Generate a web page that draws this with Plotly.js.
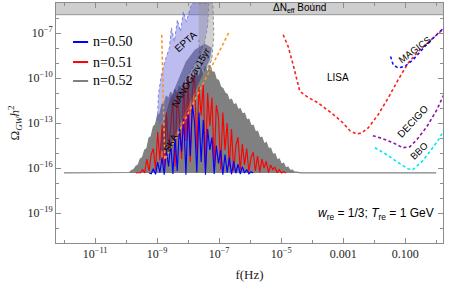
<!DOCTYPE html>
<html>
<head>
<meta charset="utf-8">
<script src="https://cdn.plot.ly/plotly-3.0.1.min.js"></script>
<style>html,body{margin:0;padding:0;background:#fff;}#chart{width:449px;height:282px;}</style>
</head>
<body>
<div id="chart"></div>
<script>
// ---- spectrum data: log10 f (Hz) grid and log10 Omega_GW h^2 for each n ----
const log10Freq = [-12,
 -10.10,-10.03,-9.96,-9.89,-9.82,-9.75,-9.68,-9.61,-9.54,-9.47,
 -9.40,-9.33,-9.26,-9.19,-9.12,-9.05,-8.98,-8.91,-8.84,-8.77,
 -8.70,-8.63,-8.56,-8.49,-8.42,-8.35,-8.28,-8.21,-8.14,-8.07,
 -8.00,-7.93,-7.86,-7.79,-7.72,-7.65,-7.58,-7.51,-7.44,-7.37,
 -7.30,-7.23,-7.16,-7.09,-7.02,-6.95,-6.88,-6.81,-6.74,-6.67,
 -6.60,-6.53,-6.46,-6.39,-6.32,-6.25,-6.18,-6.11,-6.04,-5.97,
 -5.90,-5.83,-5.76,-5.69,-5.62,-5.55,-5.48,-5.41,-5.34,-5.27,
 -5.20,-5.13,-5.06,-4.99,-4.92,-4.85,-4.78,-4.71,-4.64,-4.57,
 -4.50,-4.43,-4.36,-4.29,-4.22,
 0];

const log10OmegaN052 = [-16.33,
 -16.33,-16.33,-16.31,-16.30,-16.16,-16.10,-15.88,-15.80,-15.40,-15.30,
 -14.80,-14.70,-14.00,-13.90,-13.25,-13.10,-12.45,-12.40,-11.75,-11.70,
 -11.20,-11.40,-10.95,-11.30,-10.75,-11.10,-10.55,-10.90,-10.30,-10.70,
 -10.05,-10.40,-9.80,-10.20,-9.60,-10.00,-9.40,-9.90,-9.20,-9.70,
 -9.15,-9.60,-9.60,-10.10,-10.15,-10.60,-10.70,-11.00,-11.10,-11.50,
 -11.42,-11.80,-11.72,-12.10,-12.05,-12.40,-12.35,-12.80,-12.75,-13.20,
 -13.15,-13.60,-13.55,-14.00,-13.95,-14.40,-14.30,-14.70,-14.68,-15.10,
 -15.05,-15.45,-15.40,-15.75,-15.68,-16.00,-15.94,-16.15,-16.14,-16.28,
 -16.28,-16.33,-16.33,-16.33,-16.33,
 -16.33];

// null = curve lies on the common flat floor (drawn by the n=0.52 curve)
const log10OmegaN051 = [null,
 null,null,null,null,null,null,-16.33,-16.30,-16.33,-16.10,
 -16.33,-15.40,-16.20,-15.10,-14.70,-16.10,-13.60,-15.50,-13.10,-16.00,
 -12.30,-14.80,-13.20,-11.30,-15.90,-11.00,-12.80,-15.40,-10.30,-14.20,
 -9.90,-15.60,-10.80,-9.75,-15.00,-10.60,-12.50,-10.40,-16.00,-11.00,
 -13.20,-11.30,-15.80,-11.80,-12.60,-16.10,-12.30,-14.80,-13.00,-15.90,
 -13.40,-16.20,-14.50,-13.95,-16.15,-14.40,-15.80,-14.70,-16.25,-15.30,
 -14.95,-16.20,-15.20,-16.28,-15.40,-16.00,-15.55,-16.30,-15.80,-16.10,
 -15.95,-16.32,-16.10,-16.33,-16.25,-16.33,null,null,null,null,
 null,null,null,null,null,
 null];

const log10OmegaN050 = [null,
 null,null,null,null,null,null,null,null,null,null,
 null,null,-16.33,-16.38,-16.05,-16.42,-15.60,-16.30,-15.30,-16.45,
 -14.80,-15.90,-14.40,-16.40,-13.90,-16.20,-13.30,-14.90,-12.70,-16.45,
 -12.20,-15.20,-11.80,-13.00,-16.30,-12.30,-15.60,-12.80,-16.45,-13.40,
 -14.80,-13.95,-16.40,-14.50,-15.70,-14.80,-16.45,-15.10,-16.30,-15.30,
 -16.42,-15.55,-16.35,-15.75,-16.40,-15.92,-16.33,-16.10,-16.38,-16.25,
 -16.33,null,null,null,null,null,null,null,null,null,
 null,null,null,null,null,null,null,null,null,null,
 null,null,null,null,null,
 null];

const seriesNames = ['n=0.50', 'n=0.51', 'n=0.52'];

// ---- detector sensitivity curves (log10 f, log10 Omega h^2) ----
const lisaLogF = [-4.935,-4.774,-4.613,-4.503,-4.397,-4.181,-3.806,-3.374,-3.0,-2.784,-2.568,-2.406,-2.194,-1.871,-1.548,-1.226,-0.903,-0.526,-0.097,0.25];
const lisaLogO = [-7.113,-7.893,-9.113,-10.113,-10.893,-11.227,-11.667,-12.333,-13.0,-13.513,-13.733,-13.667,-13.333,-12.447,-11.333,-10.113,-9.0,-8.113,-7.333,-6.70];
const magicsLogF = [-1.471,-1.387,-1.226,-1.01,-0.742,-0.365,0.013,0.25];
const magicsLogO = [-8.56,-9.113,-9.333,-9.227,-8.78,-7.893,-7.113,-6.65];
const decigoLogF = [-2.042,-1.719,-1.397,-1.074,-0.848,-0.623,-0.3,0.023,0.25];
const decigoLogO = [-13.847,-14.047,-14.313,-14.647,-14.58,-14.113,-13.247,-12.113,-11.10];
const bboLogF = [-1.977,-1.59,-1.268,-0.913,-0.752,-0.461,-0.203,0.119,0.25];
const bboLogO = [-14.647,-15.113,-15.58,-16.047,-16.113,-15.58,-14.913,-13.98,-13.45];
const skaLogF = [-8.85,-8.80,-8.75,-6.69];
const skaLogO = [-7.11,-11.45,-15.45,-6.98];

// ---- PTA regions ----
const eptaLogF = [-8.990,-8.958,-8.861,-8.732,-8.603,-8.539,-8.442,-8.345,-8.248,-8.152,-8.055,-7.926,-7.848,-7.332,-7.365,-7.461,-7.655,-7.913,-8.235,-8.494,-8.719,-8.913];
const eptaLogO = [-12.78,-11.113,-9.78,-8.78,-7.98,-6.647,-7.58,-6.113,-6.913,-5.58,-6.247,-5.313,-5.0,-5.0,-6.447,-7.58,-8.647,-9.58,-10.647,-11.447,-12.247,-13.047];
const nanogravLogF = [-8.906,-8.81,-8.59,-8.332,-8.074,-7.784,-7.461,-7.235,-7.3,-7.526,-7.784,-8.042,-8.268,-8.494,-8.655];
const nanogravLogO = [-14.78,-13.113,-11.447,-10.113,-8.913,-8.113,-7.713,-7.98,-8.78,-9.78,-10.913,-12.113,-13.113,-14.113,-15.113];
const grayBandLogF = [-7.655,-7.203,-7.171,-7.235,-7.397,-7.590,-7.655];
const grayBandLogO = [-5.0,-5.0,-7.113,-8.78,-9.447,-9.447,-7.447];

// Delta N_eff bound
const dNeffLogOmega = -5.78;

// ---- ticks ----
const xTickLogVals = [-11,-9,-7,-5,-3,-1];
const xTickText = ['10<sup>\u221211</sup>','10<sup>\u22129</sup>','10<sup>\u22127</sup>','10<sup>\u22125</sup>','0.001','0.100'];
const xMinorLogVals = [-12,-10,-8,-6,-4,-2,0];
const yTickLogVals = [-19,-16,-13,-10,-7];
const yTickText = ['10<sup>\u221219</sup>','10<sup>\u221216</sup>','10<sup>\u221213</sup>','10<sup>\u221210</sup>','10<sup>\u22127</sup>'];
const yMinorLogVals = [-21,-20,-18,-17,-15,-14,-12,-11,-9,-8,-6,-5];

const p10 = a => a.map(v => (v === null ? null : Math.pow(10, v)));

const SERIF = 'Liberation Serif, Times New Roman, serif';
const SANS = 'Liberation Sans, Arial, sans-serif';
const dashS = '3px,2.5px';

const traces = [
  {x: p10([-13, 1, 1, -13]), y: p10([dNeffLogOmega, dNeffLogOmega, -4, -4]), fill: 'toself', fillcolor: 'rgb(206,206,206)',
   mode: 'lines', line: {color: 'rgb(150,150,150)', width: 1}, hoverinfo: 'skip', showlegend: false},
  {x: p10(log10Freq), y: p10(log10OmegaN052), mode: 'lines', name: seriesNames[2], fill: 'toself', fillcolor: 'rgb(128,128,128)',
   line: {color: 'rgb(128,128,128)', width: 1.2}, showlegend: false},
  {x: p10(log10Freq), y: p10(log10OmegaN051), mode: 'lines', name: seriesNames[1], connectgaps: false,
   line: {color: 'rgb(255,0,0)', width: 1.15}, showlegend: false},
  {x: p10(log10Freq), y: p10(log10OmegaN050), mode: 'lines', name: seriesNames[0], connectgaps: false,
   line: {color: 'rgb(0,0,255)', width: 1.15}, showlegend: false},
  {x: p10(eptaLogF), y: p10(eptaLogO), fill: 'toself', fillcolor: 'rgba(95,95,215,0.42)', mode: 'lines',
   line: {color: 'rgba(90,90,230,0.7)', width: 1, dash: dashS}, showlegend: false, hoverinfo: 'skip'},
  {x: p10(grayBandLogF), y: p10(grayBandLogO), fill: 'toself', fillcolor: 'rgba(150,150,150,0.45)', mode: 'lines',
   line: {color: 'rgba(120,120,120,0.8)', width: 1, dash: dashS}, showlegend: false, hoverinfo: 'skip'},
  {x: p10(nanogravLogF), y: p10(nanogravLogO), fill: 'toself', fillcolor: 'rgba(45,45,110,0.5)', mode: 'lines',
   line: {color: 'rgba(45,45,110,0)', width: 0}, showlegend: false, hoverinfo: 'skip'},
  {x: p10(skaLogF), y: p10(skaLogO), mode: 'lines', line: {color: 'rgb(245,150,40)', width: 1.6, dash: dashS}, showlegend: false},
  {x: p10(lisaLogF), y: p10(lisaLogO), mode: 'lines', line: {color: 'rgb(255,30,30)', width: 1.6, dash: dashS}, showlegend: false},
  {x: p10(magicsLogF), y: p10(magicsLogO), mode: 'lines', line: {color: 'rgb(20,20,255)', width: 1.6, dash: dashS}, showlegend: false},
  {x: p10(decigoLogF), y: p10(decigoLogO), mode: 'lines', line: {color: 'rgb(140,20,160)', width: 1.6, dash: dashS}, showlegend: false},
  {x: p10(bboLogF), y: p10(bboLogO), mode: 'lines', line: {color: 'rgb(0,235,240)', width: 1.6, dash: dashS}, showlegend: false}
];

const legendColors = ['rgb(0,0,255)', 'rgb(255,0,0)', 'rgb(128,128,128)'];
const legendY = [0.8375, 0.754, 0.675];
const shapes = legendY.map((yy, i) => ({type: 'line', xref: 'paper', yref: 'paper', x0: 0.044, x1: 0.083, y0: yy, y1: yy,
  line: {color: legendColors[i], width: 2}}));

const ann = (txt, x, y, ang, size) => ({text: txt, x: x, y: y, xref: 'x', yref: 'y', showarrow: false,
  textangle: ang, font: {family: SANS, size: size, color: '#000'}});

const annotations = [
  ...seriesNames.map((s, i) => ({text: s, xref: 'paper', yref: 'paper', x: 0.091, y: legendY[i], xanchor: 'left', yanchor: 'middle',
    showarrow: false, font: {family: SERIF, size: 14, color: '#000'}})),
  ann('\u0394N<sub>eff</sub> Bound', -4.4, -5.33, 0, 10),
  ann('LISA', -3.18, -9.98, 0, 10),
  ann('MAGICS', -0.69, -8.11, -37, 9.5),
  ann('DECIGO', -0.76, -12.9, -47, 10),
  ann('BBO', -0.54, -14.85, -44, 9.5),
  ann('EPTA', -8.07, -7.58, -42, 10),
  ann('NANOGrav15yr', -7.92, -9.95, -60, 9.5),
  ann('SKA', -8.56, -14.31, -62, 9.5),
  {text: '<i>w</i><sub>re</sub> = 1/3; <i>T</i><sub>re</sub> = 1 GeV', xref: 'paper', yref: 'paper', x: 0.982, y: 0.121,
   xanchor: 'right', yanchor: 'middle', showarrow: false, font: {family: SANS, size: 12, color: '#000'}}
];

const frameColor = 'rgb(140,140,140)';
const layout = {
  width: 449, height: 282,
  margin: {l: 56, r: 6, t: 3, b: 39},
  paper_bgcolor: '#fff', plot_bgcolor: '#fff',
  showlegend: false,
  xaxis: {type: 'log', range: [-12.26, 0.22], showgrid: false, zeroline: false,
    tickmode: 'array', tickvals: p10(xTickLogVals), ticktext: xTickText,
    ticks: 'inside', ticklen: 5, tickwidth: 1, tickcolor: frameColor,
    showline: true, linecolor: frameColor, linewidth: 1, mirror: 'allticks',
    minor: {tickmode: 'array', tickvals: p10(xMinorLogVals), ticks: 'inside', ticklen: 3, tickcolor: frameColor},
    tickfont: {family: SERIF, size: 12, color: '#222'},
    title: {text: 'f(Hz)', font: {family: SERIF, size: 13, color: '#222'}, standoff: 20}},
  yaxis: {type: 'log', range: [-21, -5], showgrid: false, zeroline: false,
    tickmode: 'array', tickvals: p10(yTickLogVals), ticktext: yTickText,
    ticks: 'inside', ticklen: 5, tickwidth: 1, tickcolor: frameColor,
    showline: true, linecolor: frameColor, linewidth: 1, mirror: 'allticks',
    minor: {tickmode: 'array', tickvals: p10(yMinorLogVals), ticks: 'inside', ticklen: 3, tickcolor: frameColor},
    tickfont: {family: SERIF, size: 12, color: '#222'},
    title: {text: '\u03A9<sub><i>GW</i></sub><i>h</i><sup>2</sup>', font: {family: SERIF, size: 13, color: '#222'}, standoff: 4}},
  shapes: shapes,
  annotations: annotations
};

Plotly.newPlot('chart', traces, layout, {staticPlot: true, displayModeBar: false});
</script>
</body>
</html>
